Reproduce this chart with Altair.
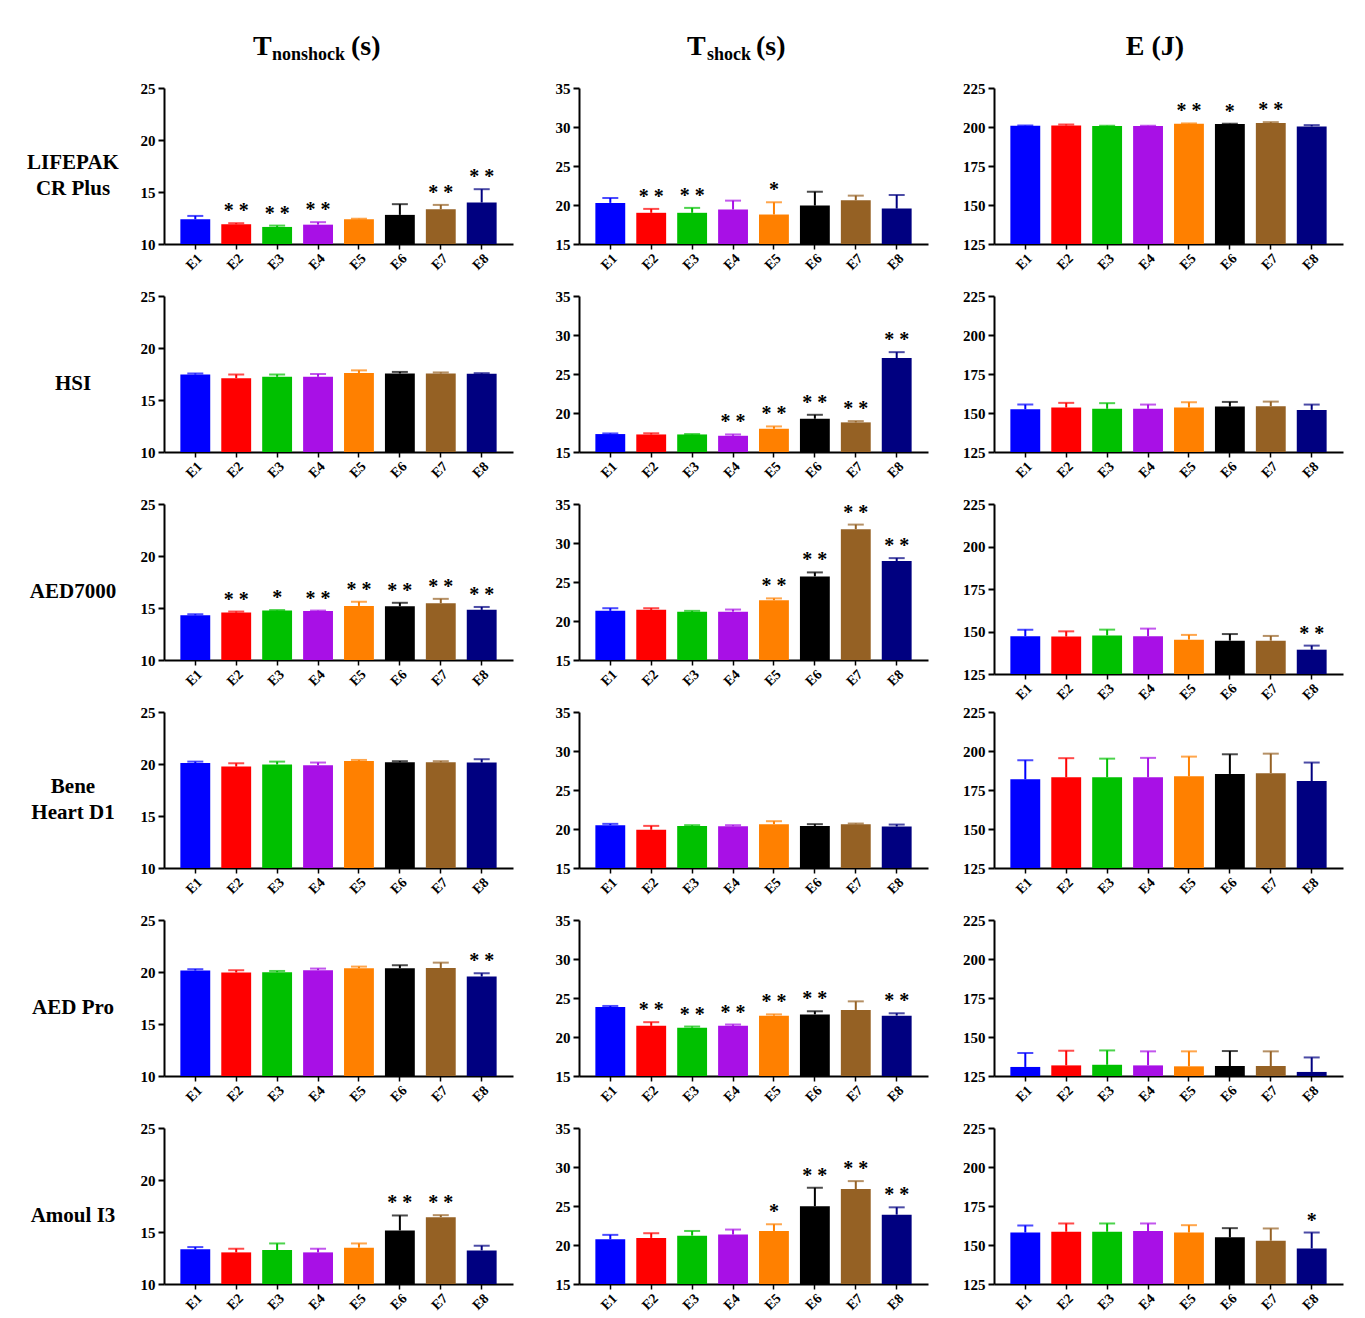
import altair as alt
import pandas as pd

FONT = "Liberation Serif"

GROUPS = ["E1", "E2", "E3", "E4", "E5", "E6", "E7", "E8"]
COLORS = ["#0000FF", "#FF0000", "#00C000", "#A810E6", "#FF8000", "#000000", "#956124", "#000080"]

DEVICES = ["LIFEPAK\nCR Plus", "HSI", "AED7000", "Bene\nHeart D1", "AED Pro", "Amoul I3"]

# T nonshock (s): means, SD, significance, one list per device
tn_mean = [
    [12.38, 11.90, 11.64, 11.86, 12.38, 12.80, 13.34, 13.99],
    [17.45, 17.10, 17.23, 17.23, 17.60, 17.55, 17.55, 17.52],
    [14.30, 14.56, 14.75, 14.70, 15.20, 15.17, 15.46, 14.82],
    [20.10, 19.75, 19.95, 19.88, 20.30, 20.17, 20.17, 20.14],
    [20.14, 19.95, 19.98, 20.17, 20.36, 20.36, 20.39, 19.56],
    [13.33, 13.04, 13.26, 13.04, 13.49, 15.15, 16.43, 13.23],
]
tn_sd = [
    [0.32, 0.10, 0.13, 0.24, 0.05, 1.03, 0.42, 1.28],
    [0.10, 0.35, 0.22, 0.27, 0.25, 0.15, 0.10, 0.06],
    [0.10, 0.10, 0.05, 0.05, 0.40, 0.33, 0.42, 0.28],
    [0.13, 0.32, 0.28, 0.26, 0.09, 0.10, 0.10, 0.32],
    [0.13, 0.22, 0.12, 0.16, 0.16, 0.29, 0.51, 0.32],
    [0.22, 0.35, 0.64, 0.35, 0.41, 1.44, 0.19, 0.45],
]
tn_sig = [
    ["", "**", "**", "**", "", "", "**", "**"],
    ["", "", "", "", "", "", "", ""],
    ["", "**", "*", "**", "**", "**", "**", "**"],
    ["", "", "", "", "", "", "", ""],
    ["", "", "", "", "", "", "", "**"],
    ["", "", "", "", "", "**", "**", ""],
]

# T shock (s)
ts_mean = [
    [20.27, 19.00, 19.00, 19.42, 18.78, 19.93, 20.60, 19.54],
    [17.30, 17.25, 17.25, 17.08, 17.98, 19.26, 18.80, 27.04],
    [21.30, 21.43, 21.17, 21.20, 22.66, 25.72, 31.77, 27.68],
    [20.49, 19.90, 20.40, 20.36, 20.62, 20.40, 20.62, 20.32],
    [23.85, 21.43, 21.20, 21.43, 22.74, 22.90, 23.47, 22.74],
    [20.74, 20.91, 21.20, 21.34, 21.80, 24.96, 27.17, 23.89],
]
ts_sd = [
    [0.63, 0.50, 0.63, 1.14, 1.57, 1.77, 0.60, 1.74],
    [0.08, 0.15, 0.05, 0.17, 0.30, 0.51, 0.16, 0.76],
    [0.34, 0.21, 0.13, 0.27, 0.24, 0.51, 0.59, 0.38],
    [0.17, 0.50, 0.09, 0.13, 0.38, 0.22, 0.08, 0.25],
    [0.13, 0.47, 0.14, 0.17, 0.16, 0.40, 1.10, 0.30],
    [0.56, 0.60, 0.60, 0.64, 0.86, 2.38, 1.02, 0.94],
]
ts_sig = [
    ["", "**", "**", "", "*", "", "", ""],
    ["", "", "", "**", "**", "**", "**", "**"],
    ["", "", "", "", "**", "**", "**", "**"],
    ["", "", "", "", "", "", "", ""],
    ["", "**", "**", "**", "**", "**", "", "**"],
    ["", "", "", "", "*", "**", "**", "**"],
]

# E (J)
e_mean = [
    [200.8, 201.0, 200.6, 200.6, 202.1, 201.9, 202.5, 200.4],
    [152.4, 153.5, 152.7, 152.7, 153.5, 154.1, 154.4, 152.0],
    [147.2, 147.0, 147.7, 147.2, 145.2, 144.6, 144.6, 139.3],
    [181.9, 183.2, 183.2, 183.2, 183.8, 185.3, 185.8, 180.7],
    [130.8, 131.8, 132.2, 131.8, 131.2, 131.4, 131.4, 127.6],
    [158.0, 158.5, 158.5, 158.9, 158.0, 154.9, 152.7, 147.8],
]
e_sd = [
    [0.2, 0.6, 0.2, 0.2, 0.2, 0.2, 0.6, 0.8],
    [3.0, 3.0, 3.6, 2.7, 3.4, 3.0, 2.9, 3.4],
    [3.9, 3.1, 3.4, 4.5, 2.8, 3.9, 2.8, 2.4],
    [12.2, 12.2, 11.9, 12.4, 12.6, 12.6, 12.5, 11.9],
    [8.9, 9.4, 9.2, 9.0, 9.6, 9.6, 9.4, 9.3],
    [4.5, 5.3, 5.3, 4.9, 4.7, 5.9, 7.9, 10.2],
]
e_sig = [
    ["", "", "", "", "**", "*", "**", ""],
    ["", "", "", "", "", "", "", ""],
    ["", "", "", "", "", "", "", "**"],
    ["", "", "", "", "", "", "", ""],
    ["", "", "", "", "", "", "", ""],
    ["", "", "", "", "", "", "", "*"],
]

DOMAINS = [(10, 25), (15, 35), (125, 225)]
TICKS = [[10, 15, 20, 25], [15, 20, 25, 30, 35], [125, 150, 175, 200, 225]]
METRICS = [(tn_mean, tn_sd, tn_sig), (ts_mean, ts_sd, ts_sig), (e_mean, e_sd, e_sig)]

W = 349
H = 156


def title_layers(col):
    layers = []
    if col == 0:
        parts = [("T", 89, -33, 28), ("nonshock", 108, -28, 18), ("(s)", 187, -33, 28)]
        align = "left"
    elif col == 1:
        parts = [("T", 108, -33, 28), ("shock", 128, -28, 18), ("(s)", 177, -33, 28)]
        align = "left"
    else:
        parts = [("E (J)", 161, -33, 28)]
        align = "center"
    for txt, px, py, fs in parts:
        layers.append(
            alt.Chart(pd.DataFrame({"t": [txt]}))
            .mark_text(font=FONT, fontWeight="bold", fontSize=fs, align=align,
                       baseline="alphabetic", color="black")
            .encode(text="t:N", x=alt.value(px), y=alt.value(py))
        )
    return layers


def panel(row, col):
    means, sds, sigs = METRICS[col]
    df = pd.DataFrame({"g": GROUPS, "m": means[row], "sd": sds[row], "sig": sigs[row]})
    lo, hi = DOMAINS[col]
    extra = 14 if (row == 2 and col == 2) else 0
    if extra:
        yscale = alt.Scale(domain=[lo, hi], nice=False, zero=False, range=[H + extra, 0])
    else:
        yscale = alt.Scale(domain=[lo, hi], nice=False, zero=False)
    yaxis = alt.Axis(values=TICKS[col], title=None, tickSize=6, tickWidth=2,
                     domainWidth=2, labelFontSize=15, labelPadding=3, grid=False)
    xaxis = alt.Axis(title=None, labelAngle=-45, tickSize=5, tickWidth=1.5,
                     domainWidth=2, labelFontSize=14, labelPadding=2, offset=extra)
    x = alt.X("g:N", sort=GROUPS, scale=alt.Scale(paddingInner=0.27, paddingOuter=0.4), axis=xaxis)
    color = alt.Color("g:N", scale=alt.Scale(domain=GROUPS, range=COLORS), legend=None)

    base = alt.Chart(df).transform_calculate(top="datum.m + datum.sd")

    bars = base.mark_bar().encode(
        x=x, y=alt.Y("m:Q", scale=yscale, axis=yaxis), y2=alt.datum(lo), color=color
    )
    err = base.mark_rule(strokeWidth=2).encode(
        x=x, y=alt.Y("m:Q", scale=yscale, axis=yaxis), y2="top:Q", color=color
    )
    cap = base.mark_tick(size=16, thickness=2).encode(
        x=x, y=alt.Y("top:Q", scale=yscale, axis=yaxis), color=color
    )
    stars = (
        base.transform_filter("datum.sig != ''")
        .transform_calculate(lbl="datum.sig == '**' ? '* *' : '*'")
        .mark_text(font=FONT, fontWeight="bold", fontSize=20, baseline="alphabetic",
                   dy=-6, color="black")
        .encode(x=x, y=alt.Y("top:Q", scale=yscale, axis=yaxis), text="lbl:N")
    )
    layers = [bars, err, cap, stars]
    if col == 0:
        label = DEVICES[row]
        ly = 75 if "\n" in label else 88
        layers.append(
            alt.Chart(pd.DataFrame({"t": [label]}))
            .mark_text(font=FONT, fontWeight="bold", fontSize=21, align="center",
                       baseline="middle", lineBreak="\n", lineHeight=26, color="black")
            .encode(text="t:N", x=alt.value(-91), y=alt.value(ly))
        )
    if row == 0:
        layers += title_layers(col)
    return alt.layer(*layers).properties(width=W, height=H)


panels = [panel(r, c) for r in range(6) for c in range(3)]

chart = (
    alt.concat(*panels, columns=3, spacing={"row": 52, "column": 66}, bounds="flush")
    .properties(padding={"left": 19, "top": 25, "right": 5, "bottom": 5}, background="white")
    .configure_view(stroke=None)
    .configure_axis(labelFont=FONT, labelFontWeight="bold", labelColor="black",
                    domainColor="black", tickColor="black")
)

chart.save("out.html", embed_options={"renderer": "svg", "actions": False})
